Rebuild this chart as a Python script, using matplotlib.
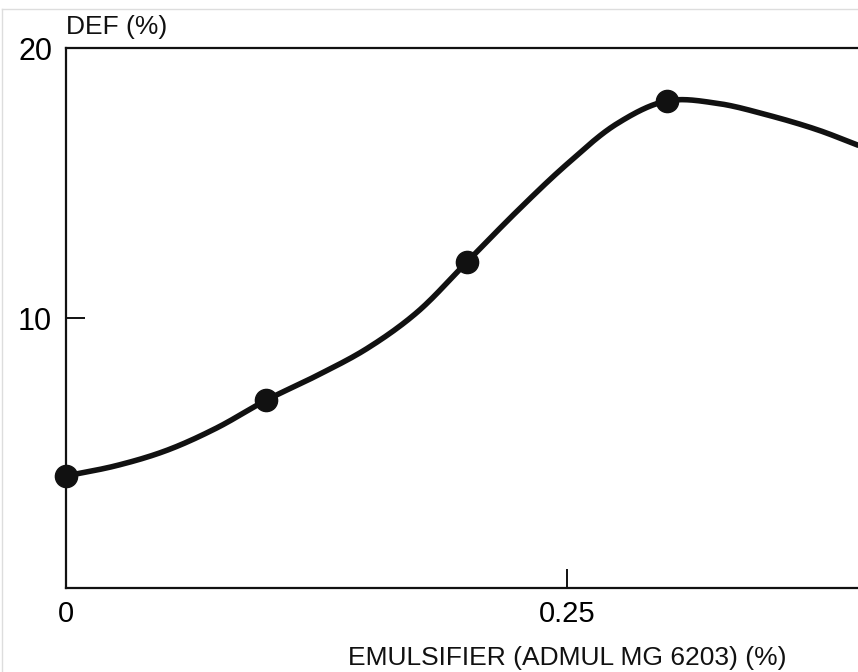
import numpy as np
import matplotlib.pyplot as plt
from matplotlib.lines import Line2D

# measured points (emulsifier %, DEF %)
emulsifier = [0.0, 0.1, 0.2, 0.3]
deformation = [4.15, 6.96, 12.07, 18.04]

# hand-drawn curve
curve_x = [0.0, 0.025, 0.05, 0.075, 0.1, 0.125, 0.15, 0.175, 0.2,
           0.225, 0.25, 0.275, 0.3, 0.325, 0.35, 0.375, 0.3952]
curve_y = [4.15, 4.53, 5.09, 5.92, 6.96, 7.86, 8.86, 10.2, 12.07,
           13.95, 15.70, 17.20, 18.04, 17.95, 17.52, 16.97, 16.40]

x_ticks = [0, 0.25]
x_tick_labels = ['0', '0.25']
y_ticks = [10, 20]
y_tick_labels = ['10', '20']


def smooth(xs, ys, sx=2004.0, sy=27.0, n=30):
    # centripetal catmull-rom in (roughly) pixel space
    p = np.column_stack([np.asarray(xs) * sx, np.asarray(ys) * sy])
    p = np.vstack([2 * p[0] - p[1], p, 2 * p[-1] - p[-2]])
    out = []
    for i in range(1, len(p) - 2):
        P = p[i - 1:i + 3]
        t = [0.0]
        for k in range(3):
            t.append(t[-1] + np.linalg.norm(P[k + 1] - P[k]) ** 0.5)
        tt = np.linspace(t[1], t[2], n, endpoint=False)[:, None]
        A1 = (t[1] - tt) / (t[1] - t[0]) * P[0] + (tt - t[0]) / (t[1] - t[0]) * P[1]
        A2 = (t[2] - tt) / (t[2] - t[1]) * P[1] + (tt - t[1]) / (t[2] - t[1]) * P[2]
        A3 = (t[3] - tt) / (t[3] - t[2]) * P[2] + (tt - t[2]) / (t[3] - t[2]) * P[3]
        B1 = (t[2] - tt) / (t[2] - t[0]) * A1 + (tt - t[0]) / (t[2] - t[0]) * A2
        B2 = (t[3] - tt) / (t[3] - t[1]) * A2 + (tt - t[1]) / (t[3] - t[1]) * A3
        out.append((t[2] - tt) / (t[2] - t[1]) * B1 + (tt - t[1]) / (t[2] - t[1]) * B2)
    out.append(p[-2][None, :])
    out = np.vstack(out)
    return out[:, 0] / sx, out[:, 1] / sy


plt.rcParams['font.family'] = ['Liberation Sans', 'DejaVu Sans']
ink = '#111111'

fig = plt.figure(figsize=(8.58, 6.72), dpi=100)
ax = fig.add_axes([66 / 858, 84 / 672, 792 / 858, 540 / 672])

cx, cy = smooth(curve_x, curve_y)
ax.plot(cx, cy, color=ink, lw=4, solid_capstyle='round',
        solid_joinstyle='round', clip_on=False, zorder=2)
ax.plot(emulsifier, deformation, 'o', color=ink, ms=16, clip_on=False, zorder=3)

ax.set_xlim(0, 0.3952)
ax.set_ylim(0, 20)
ax.spines['right'].set_visible(False)
for s in ['left', 'bottom', 'top']:
    ax.spines[s].set_linewidth(1.6)
    ax.spines[s].set_color(ink)

ax.set_xticks(x_ticks)
ax.set_xticklabels(x_tick_labels, fontsize=21)
ax.set_yticks(y_ticks)
ax.set_yticklabels(y_tick_labels, fontsize=22)
ax.tick_params(axis='both', direction='in', length=14, width=1.4, color=ink)
ax.tick_params(axis='x', pad=9)
ax.tick_params(axis='y', pad=10)

ax.text(0, 1.017, 'DEF (%)', transform=ax.transAxes, fontsize=19,
        ha='left', va='bottom', color=ink)
fig.text(567 / 858, 1 - 658 / 672, 'EMULSIFIER (ADMUL MG 6203) (%)',
         fontsize=19, ha='center', va='center', color=ink)

# faint frame of the scanned page
fig.add_artist(Line2D([2 / 858, 2 / 858], [0, 1 - 9 / 672], color='#dddddd', lw=1))
fig.add_artist(Line2D([2 / 858, 1], [1 - 9 / 672, 1 - 9 / 672], color='#dddddd', lw=1))

fig.savefig('out.png', dpi=100)
